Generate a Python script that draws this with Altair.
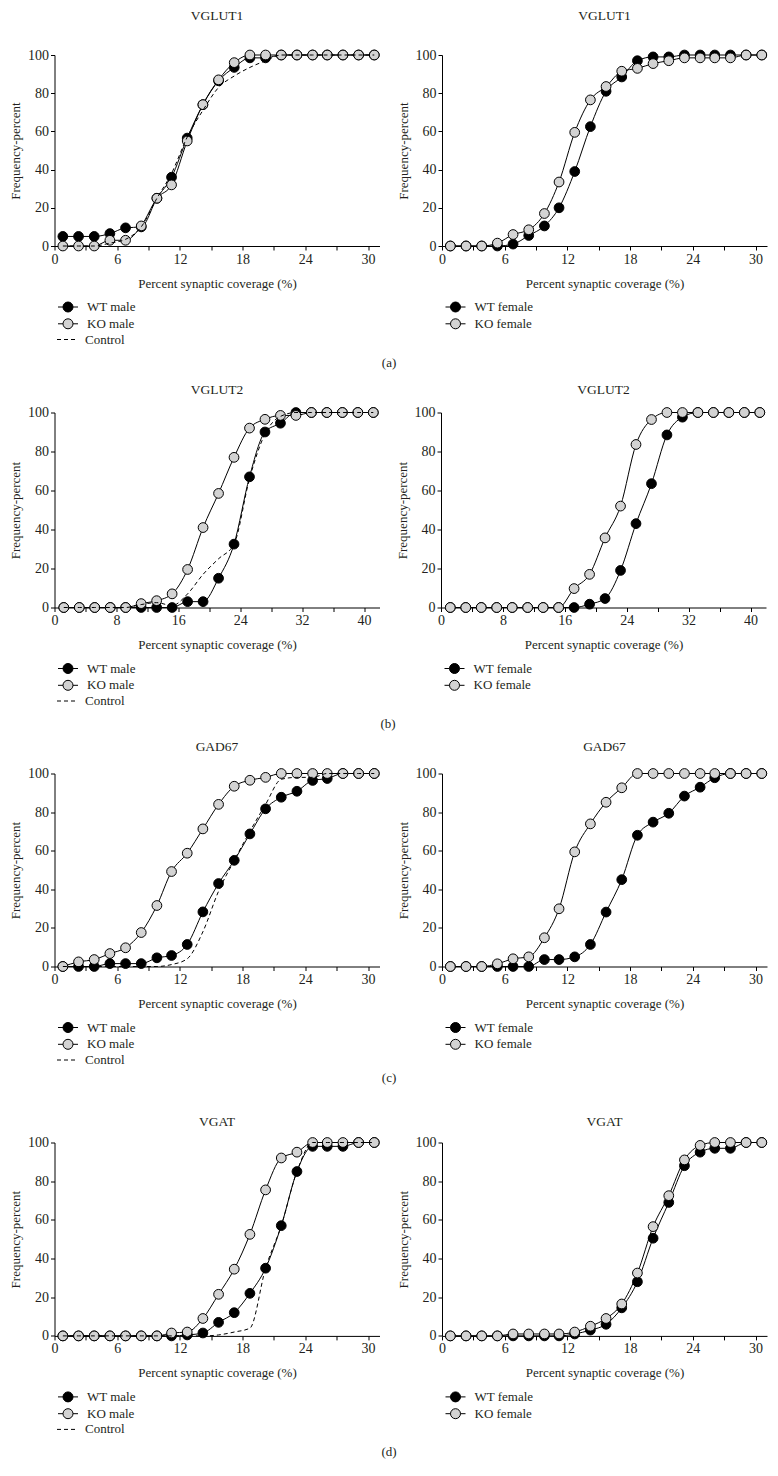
import altair as alt
import pandas as pd

FONT = "Liberation Serif"
TXT = "#231f20"
GRAY = "#d3d3d3"

# bin centres (percent synaptic coverage)
X15 = [0.8, 2.3, 3.8, 5.3, 6.8, 8.3, 9.8, 11.2, 12.7, 14.2, 15.7, 17.2, 18.7, 20.2, 21.7, 23.2, 24.7, 26.1, 27.6, 29.1, 30.6]
X20 = [1.2, 3.2, 5.2, 7.2, 9.2, 11.2, 13.2, 15.2, 17.2, 19.2, 21.2, 23.2, 25.2, 27.2, 29.2, 31.2, 33.2, 35.2, 37.2, 39.2, 41.2]

# (a) VGLUT1
vglut1_wt_male = [5, 5, 5, 6.5, 9.5, 10, 25, 36, 56.5, 74, 86.5, 93.5, 98.5, 98.5, 100, 100, 100, 100, 100, 100, 100]
vglut1_ko_male = [0, 0, 0, 3, 3, 10.5, 25, 32, 55, 74, 87, 96, 100, 100, 100, 100, 100, 100, 100, 100, 100]
vglut1_control = [0, 0, 0, 1.5, 3.5, 10, 25, 38, 57, 71, 83, 89, 93.5, 97, 100, 100, 100, 100, 100, 100, 100]
vglut1_wt_female = [0, 0, 0, 0, 1, 5.5, 10.5, 20, 39, 62.5, 81, 88.5, 97, 99, 99, 100, 100, 100, 100, 100, 100]
vglut1_ko_female = [0, 0, 0, 1.5, 6, 8.5, 17, 33.5, 59.5, 76.5, 83.5, 91.5, 93, 95.5, 97, 98.5, 98.5, 98.5, 98.5, 100, 100]

# (b) VGLUT2
vglut2_wt_male = [0, 0, 0, 0, 0, 0, 0, 0, 3, 3, 15, 32.5, 67, 90, 94.5, 100, 100, 100, 100, 100, 100]
vglut2_ko_male = [0, 0, 0, 0, 0, 2, 3.5, 7, 19.5, 41, 58.5, 77, 92, 96.5, 98.5, 98.5, 100, 100, 100, 100, 100]
vglut2_control = [0, 0, 0, 0, 0, 1.5, 2.5, 1, 7, 17, 25, 32.5, 66, 89, 98, 100, 100, 100, 100, 100, 100]
vglut2_wt_female = [0, 0, 0, 0, 0, 0, 0, 0, 0, 1.7, 4.6, 19, 43, 63.5, 88.5, 97.6, 100, 100, 100, 100, 100]
vglut2_ko_female = [0, 0, 0, 0, 0, 0, 0, 0, 9.7, 17, 35.7, 52, 83.6, 96.4, 100, 100, 100, 100, 100, 100, 100]

# (c) GAD67
gad67_wt_male = [0, 0, 0, 1.5, 1.5, 1.5, 4.5, 5.7, 11.4, 28.3, 43, 55, 68.7, 81.7, 87.7, 90.8, 96.4, 97.4, 100, 100, 100]
gad67_ko_male = [0, 2.4, 3.6, 6.7, 9.7, 17.6, 31.6, 49.2, 58.7, 71.3, 84, 93.4, 96.5, 98, 100, 100, 100, 100, 100, 100, 100]
gad67_control = [0, 0, 0, 0, 0, 0, 0, 1, 4, 18, 39, 55, 70, 84, 97, 98, 98, 100, 100, 100, 100]
gad67_wt_female = [0, 0, 0, 0, 0, 0, 3.6, 3.6, 5, 11.4, 28.2, 45, 68, 74.8, 79.4, 88.3, 92.9, 97.8, 100, 100, 100]
gad67_ko_female = [0, 0, 0, 1.4, 4, 5, 14.9, 29.9, 59.4, 73.9, 85.1, 92.6, 100, 100, 100, 100, 100, 100, 100, 100, 100]

# (d) VGAT
vgat_wt_male = [0, 0, 0, 0, 0, 0, 0, 0, 0.5, 1.5, 7, 12, 22, 35, 57, 85, 98, 98, 98, 100, 100]
vgat_ko_male = [0, 0, 0, 0, 0, 0, 0, 1.5, 2, 9, 21.5, 34.5, 52.5, 75.5, 92, 95, 100, 100, 100, 100, 100]
vgat_control = [0, 0, 0, 0, 0, 0, 0, 0, 0, 0, 0.5, 2, 4, 35, 57, 85, 100, 100, 100, 100, 100]
vgat_wt_female = [0, 0, 0, 0, 0, 0, 0, 0, 1, 3, 6, 14.5, 28, 50.5, 69, 88, 95, 97, 97, 100, 100]
vgat_ko_female = [0, 0, 0, 0, 1, 1, 1, 1, 2, 5, 9, 16.5, 32.5, 56.5, 72.5, 91, 98.5, 100, 100, 100, 100]

MALE = ["WT male", "KO male"]
FEMALE = ["WT female", "KO female"]
XTITLE = "Percent synaptic coverage (%)"
YTITLE = "Frequency-percent"

SYM = "M-2,0L-1,0M1,0L2,0M1,0A1,1,0,1,1,-1,0A1,1,0,1,1,1,0Z"
W = 325


def panel(title, xs, wt, ko, names, ctrl, xmax, step, height, title_offset):
    rows = []
    for xv, yv in zip(xs, wt):
        rows.append({"x": xv, "y": yv, "series": names[0]})
    for xv, yv in zip(xs, ko):
        rows.append({"x": xv, "y": yv, "series": names[1]})
    df = pd.DataFrame(rows)
    ticks = list(range(0, int(xmax) + 1, step))
    xenc = alt.X("x:Q", scale=alt.Scale(domain=[0, xmax], nice=False, zero=True),
                 axis=alt.Axis(values=ticks, title=XTITLE,
                               labelExpr=f"datum.value % {2 * step} === 0 ? datum.label : ''"))
    yenc = alt.Y("y:Q", scale=alt.Scale(domain=[0, 100], nice=False),
                 axis=alt.Axis(values=[0, 20, 40, 60, 80, 100], title=YTITLE))
    base = alt.Chart(df)
    lines = base.mark_line(color="black", strokeWidth=1, interpolate="monotone").encode(
        x=xenc, y=yenc, detail="series:N")
    pts = base.mark_point(filled=True, opacity=1, size=95, stroke="black", strokeWidth=1).encode(
        x=xenc, y=yenc,
        fill=alt.Fill("series:N", scale=alt.Scale(domain=names, range=["black", GRAY]),
                      legend=alt.Legend(title=None, orient="none", legendX=7, legendY=height + 54.5,
                                        symbolType=SYM, symbolSize=100, symbolStrokeColor="black",
                                        symbolStrokeWidth=1, labelOffset=12.5, rowPadding=1.8,
                                        labelFont=FONT, labelFontSize=13, labelColor=TXT, padding=0)))
    layers = [lines, pts]
    if ctrl is not None:
        dfc = pd.DataFrame({"x": xs, "y": ctrl, "series": ["Control"] * len(xs)})
        cl = alt.Chart(dfc).mark_line(color="black", strokeWidth=1, interpolate="monotone").encode(
            x=xenc, y=yenc,
            strokeDash=alt.StrokeDash("series:N", scale=alt.Scale(domain=["Control"], range=[[4, 3]]),
                                      legend=alt.Legend(title=None, orient="none", legendX=2,
                                                        legendY=height + 83,
                                                        symbolType="stroke", symbolSize=400,
                                                        symbolStrokeColor="black", symbolStrokeWidth=1,
                                                        labelOffset=7.5, labelFont=FONT, labelFontSize=13,
                                                        labelColor=TXT, padding=0)))
        layers.append(cl)
    return alt.layer(*layers).properties(
        width=W, height=height,
        title=alt.TitleParams(title, offset=title_offset, font=FONT, fontSize=13.5,
                              fontWeight="normal", color=TXT, anchor="middle"))


def row(label, left, right, label_offset):
    return alt.hconcat(left, right, spacing=15.5).resolve_scale(
        fill="independent", strokeDash="independent").properties(
        title=alt.TitleParams(label, orient="bottom", anchor="middle", offset=label_offset,
                              font=FONT, fontSize=13, fontWeight="normal", color=TXT))


rowA = row("(a)",
           panel("VGLUT1", X15, vglut1_wt_male, vglut1_ko_male, MALE, vglut1_control, 31.1, 3, 191, 26),
           panel("VGLUT1", X15, vglut1_wt_female, vglut1_ko_female, FEMALE, None, 31.1, 3, 191, 26), 9.5)
rowB = row("(b)",
           panel("VGLUT2", X20, vglut2_wt_male, vglut2_ko_male, MALE, vglut2_control, 42, 4, 195, 9.3),
           panel("VGLUT2", X20, vglut2_wt_female, vglut2_ko_female, FEMALE, None, 42, 4, 195, 9.3), 9.75)
rowC = row("(c)",
           panel("GAD67", X15, gad67_wt_male, gad67_ko_male, MALE, gad67_control, 31.1, 3, 193, 13.5),
           panel("GAD67", X15, gad67_wt_female, gad67_ko_female, FEMALE, None, 31.1, 3, 193, 13.5), 4)
rowD = row("(d)",
           panel("VGAT", X15, vgat_wt_male, vgat_ko_male, MALE, vgat_control, 31.1, 3, 193.4, 7.5),
           panel("VGAT", X15, vgat_wt_female, vgat_ko_female, FEMALE, None, 31.1, 3, 193.4, 7.5), 8.75)

ab = alt.vconcat(rowA, rowB, spacing=12.5).resolve_scale(fill="independent", strokeDash="independent")
abc = alt.vconcat(ab, rowC, spacing=7.5).resolve_scale(fill="independent", strokeDash="independent")
chart = alt.vconcat(abc, rowD, spacing=29.5).resolve_scale(fill="independent", strokeDash="independent")

chart = chart.properties(padding={"left": 1.5, "top": 0, "right": 0, "bottom": 0}).configure_view(
    stroke=None).configure_axis(
    grid=False, domainColor="black", domainWidth=1, tickColor="black", tickWidth=1, tickSize=4,
    labelFont=FONT, labelFontSize=14, labelColor=TXT, labelPadding=2, labelFlush=False,
    labelOverlap=False, titleFont=FONT, titleFontSize=13, titleFontWeight="normal", titleColor=TXT
).configure_axisY(minExtent=27, maxExtent=27, titlePadding=5).configure_axisX(titlePadding=11)

chart.save("out.html", embed_options={"renderer": "svg", "actions": False})
